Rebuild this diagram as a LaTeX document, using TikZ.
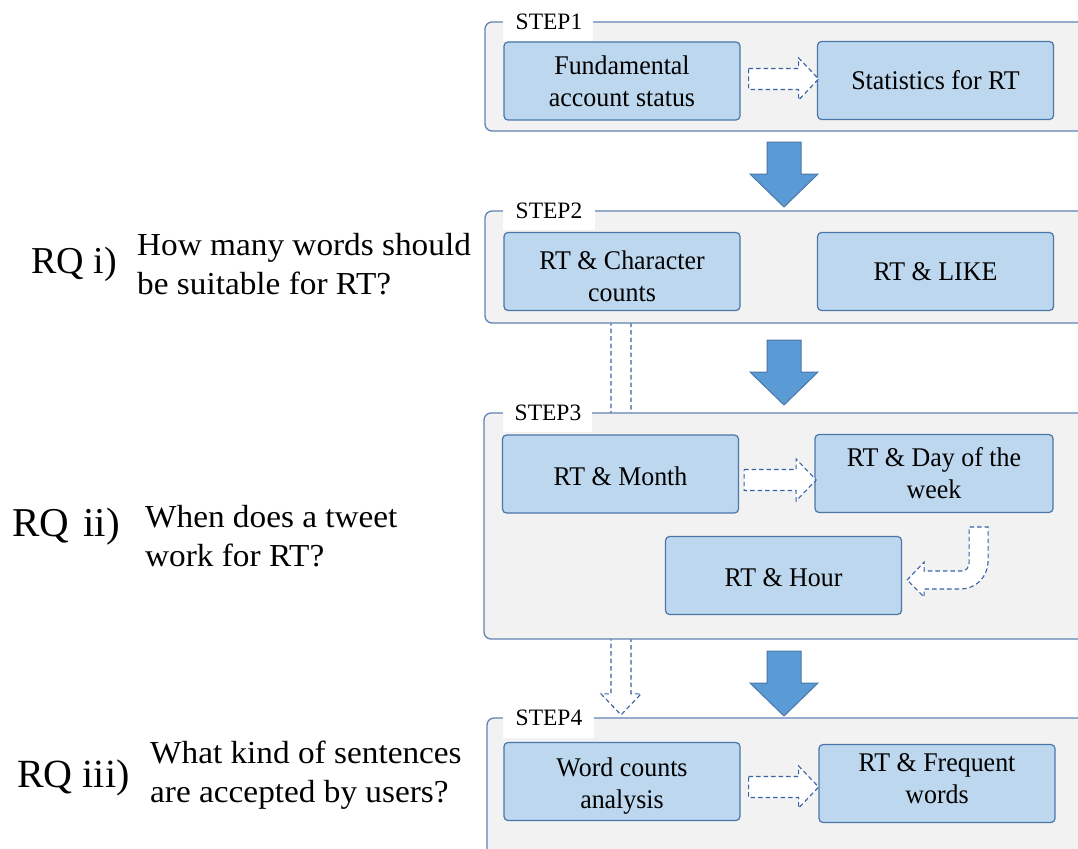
\documentclass[tikz,border=0pt]{standalone}
\usepackage{fontspec}
\setmainfont{Liberation Serif}
\newfontfamily\qfam[FakeStretch=1.04]{Liberation Serif}
\newfontfamily\bfam[FakeStretch=0.96]{Liberation Serif}
\usetikzlibrary{calc}
\definecolor{panelfill}{HTML}{F2F2F2}
\definecolor{panelline}{HTML}{6283B3}
\definecolor{boxfill}{HTML}{BDD7EE}
\definecolor{boxline}{HTML}{4A76A8}
\definecolor{arrowfill}{HTML}{5B9BD5}
\definecolor{dashcol}{HTML}{3A62A7}
\newcommand\padtop{\rule{0pt}{28pt}}
\newcommand\padbot{\rule[-10pt]{0pt}{10pt}}
\pgfdeclarelayer{bg}
\pgfsetlayers{bg,main}
\tikzset{
  panel/.style={draw=panelline, fill=panelfill, line width=1.3pt, rounded corners=7pt},
  box/.style={draw=boxline, fill=boxfill, line width=1.2pt, rounded corners=4pt,
    minimum width=236pt, minimum height=78pt, align=center, inner sep=2pt,
    font=\bfam\fontsize{27}{32}\selectfont},
  steptext/.style={inner sep=0pt, font=\fontsize{23.5}{26}\selectfont},
  rqtext/.style={anchor=west, inner sep=0pt},
  qtext/.style={anchor=west, inner sep=0pt, align=left, font=\qfam\fontsize{32}{39}\selectfont},
  blockarrow/.style={draw=boxline, fill=arrowfill, line width=1pt},
  hollow/.style={draw=dashcol, fill=white, dash pattern=on 4.5pt off 3pt, line width=1.1pt},
}
\begin{document}
\begin{tikzpicture}[x=1pt,y=-1pt]
\useasboundingbox (0,0) rectangle (1078,848);
\clip (0,0) rectangle (1078,848);

% panels
\draw[panel] (485,22) rectangle (1100,131);
\draw[panel] (485,211) rectangle (1100,323);
\draw[panel] (484,413) rectangle (1100,639);
\draw[panel] (487,718) rectangle (1100,900);

% step labels
\fill[white] (503,10) rectangle (593,41);
\node[steptext] (l1) at (549,22) {STEP1};
\fill[white] (503,199) rectangle (595,230);
\node[steptext] (l2) at (549,211) {STEP2};
\fill[white] (503,401) rectangle (592,432);
\node[steptext] (l3) at (548,413) {STEP3};
\fill[white] (503,706) rectangle (594,738);
\node[steptext] (l4) at (549,718) {STEP4};

% boxes
\node[box] (fund) at (622,81) {Fundamental\\account status};
\node[box] (stat) at (935.5,80.5) {Statistics for RT};
\node[box] (chr) at (622,271.5) {\padtop RT \& Character\\counts};
\node[box] (like) at (935.5,271.5) {RT \& LIKE};
\node[box] (month) at (620.5,474) {\rule{0pt}{23pt}RT \& Month};
\node[box, minimum width=238pt] (day) at (934,473.5) {RT \& Day of the\\week};
\node[box] (hour) at (783.5,575.5) {\rule{0pt}{23pt}RT \& Hour};
\node[box] (wc) at (622,781.5) {\padtop Word counts\\analysis};
\node[box] (freq) at (937,783.5) {RT \& Frequent\\words\padbot};

% left texts
\node[rqtext, font=\fontsize{38}{44}\selectfont] (rq1) at (31,264) {RQ i)};
\node[qtext] (q1) at (137,264) {How many words should\\be suitable for RT?};
\node[rqtext, font=\fontsize{41}{46}\selectfont] (rq2) at (12,527) {RQ\hspace{4pt} ii)};
\node[qtext] (q2) at (145,536) {When does a tweet\\work for RT?};
\node[rqtext, font=\fontsize{40}{46}\selectfont] (rq3) at (17,778) {RQ iii)};
\node[qtext] (q3) at (150,775) {What kind of sentences\\are accepted by users?};

% block arrows between steps
\foreach \yy in {142,340,651} {
  \draw[blockarrow] (767,\yy) -- ++(34,0) -- ++(0,32) -- ++(17,0) -- ++(-34,33) -- ++(-34,-33) -- ++(17,0) -- cycle;
}

% hollow dashed arrows (horizontal)
\draw[hollow] ($(fund.east)+(8,-2)$) ++(0,-10.5) -- ++(50,0) -- ++(0,-10.5) -- ++(20,21) -- ++(-20,21) -- ++(0,-10.5) -- ++(-50,0) -- cycle;
\draw[hollow] ($(month.east)+(5,6)$) ++(0,-10.5) -- ++(52,0) -- ++(0,-10.5) -- ++(20,21) -- ++(-20,21) -- ++(0,-10.5) -- ++(-52,0) -- cycle;
\draw[hollow] ($(wc.east)+(8,5.5)$) ++(0,-10.5) -- ++(50,0) -- ++(0,-10.5) -- ++(20,21) -- ++(-20,21) -- ++(0,-10.5) -- ++(-50,0) -- cycle;

% bent arrow day -> hour
\coordinate (ct) at ($(hour.east)+(5,4.5)$);
\begin{scope}[shift={(ct)}]
\draw[hollow] (0,0) -- (17,-18) -- (17,-9) -- (55,-9)
  .. controls (59,-9) and (62,-13) .. (62,-17) -- (62,-53) -- (81,-53) -- (81,-20)
  .. controls (81,-3) and (69,9) .. (53,9) -- (17,9) -- (17,17) -- cycle;
\end{scope}

% long dashed arrow step2 -> step4 (behind panels)
\begin{pgfonlayer}{bg}
\coordinate (vs) at ($(chr.south)+(-1,-5)$);
\coordinate (vt) at ($(wc.north)+(-1,-27)$);
\draw[hollow] ($(vs)+(-10,0)$) -- ($(vt)+(-10,-21)$) -- ($(vt)+(-20,-21)$) -- (vt)
  -- ($(vt)+(20,-21)$) -- ($(vt)+(10,-21)$) -- ($(vs)+(10,0)$) -- cycle;
\end{pgfonlayer}
\end{tikzpicture}
\end{document}
